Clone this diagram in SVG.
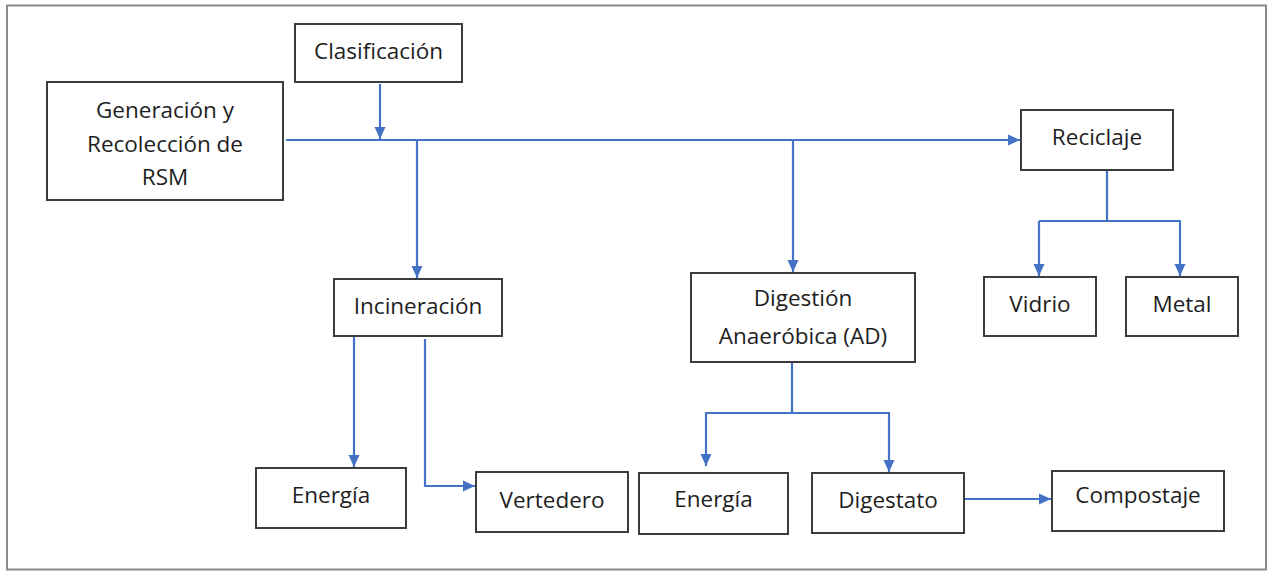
<svg xmlns="http://www.w3.org/2000/svg" width="1268" height="571" viewBox="0 0 1268 571">
<style>
.box{fill:#fff;stroke:#3c3c3c;stroke-width:2}
.t{font-family:"Open Sans","Noto Sans",sans-serif;font-size:22.5px;fill:#1e1e1e;text-anchor:middle}
.c{fill:none;stroke:#4472C4;stroke-width:2.2}
</style>
<defs>
<marker id="ah" markerWidth="13" markerHeight="13" refX="12" refY="6" orient="auto" markerUnits="userSpaceOnUse"><path d="M0,0.5 L12,6 L0,11.5 z" fill="#4472C4"/></marker>
</defs>
<rect x="0" y="0" width="1268" height="571" fill="#fff"/>
<rect x="7" y="5.5" width="1259" height="564" fill="#fff" stroke="#8a8a8a" stroke-width="2"/>
<g id="connectors">
<path class="c" d="M286,140 H1020" marker-end="url(#ah)"/>
<path class="c" d="M380,84 V139" marker-end="url(#ah)"/>
<path class="c" d="M417,140 V278" marker-end="url(#ah)"/>
<path class="c" d="M793,140 V272" marker-end="url(#ah)"/>
<path class="c" d="M1107,170 V221"/>
<path class="c" d="M1039,221 H1181"/>
<path class="c" d="M1039,221 V276" marker-end="url(#ah)"/>
<path class="c" d="M1180,221 V276" marker-end="url(#ah)"/>
<path class="c" d="M354,336 V467" marker-end="url(#ah)"/>
<path class="c" d="M425,339 V486 H475" marker-end="url(#ah)"/>
<path class="c" d="M792,362 V413"/>
<path class="c" d="M705,413 H890"/>
<path class="c" d="M706,413 V466" marker-end="url(#ah)"/>
<path class="c" d="M889,413 V472" marker-end="url(#ah)"/>
<path class="c" d="M964,499 H1051" marker-end="url(#ah)"/>
</g>
<g id="clasificacion"><rect class="box" x="295" y="24" width="167" height="58"/><text class="t" x="378.5" y="59">Clasificación</text></g>
<g id="generacion"><rect class="box" x="47" y="82" width="236" height="118"/><text class="t" x="165" y="118">Generación y</text><text class="t" x="165" y="152">Recolección de</text><text class="t" x="165" y="185">RSM</text></g>
<g id="reciclaje"><rect class="box" x="1021" y="110" width="152" height="60"/><text class="t" x="1097" y="145">Reciclaje</text></g>
<g id="incineracion"><rect class="box" x="334" y="279" width="168" height="57"/><text class="t" x="418" y="314">Incineración</text></g>
<g id="digestion"><rect class="box" x="691" y="273" width="224" height="89"/><text class="t" x="803" y="306">Digestión</text><text class="t" x="803" y="344">Anaeróbica (AD)</text></g>
<g id="vidrio"><rect class="box" x="984" y="277" width="112" height="59"/><text class="t" x="1040" y="312">Vidrio</text></g>
<g id="metal"><rect class="box" x="1126" y="277" width="112" height="59"/><text class="t" x="1182" y="312">Metal</text></g>
<g id="energia1"><rect class="box" x="256" y="468" width="150" height="60"/><text class="t" x="331" y="503">Energía</text></g>
<g id="vertedero"><rect class="box" x="476" y="472" width="152" height="60"/><text class="t" x="552" y="508">Vertedero</text></g>
<g id="energia2"><rect class="box" x="639" y="473" width="149" height="61"/><text class="t" x="713.5" y="507">Energía</text></g>
<g id="digestato"><rect class="box" x="812" y="473" width="152" height="60"/><text class="t" x="888" y="508">Digestato</text></g>
<g id="compostaje"><rect class="box" x="1052" y="471" width="172" height="60"/><text class="t" x="1138" y="503">Compostaje</text></g>
</svg>
